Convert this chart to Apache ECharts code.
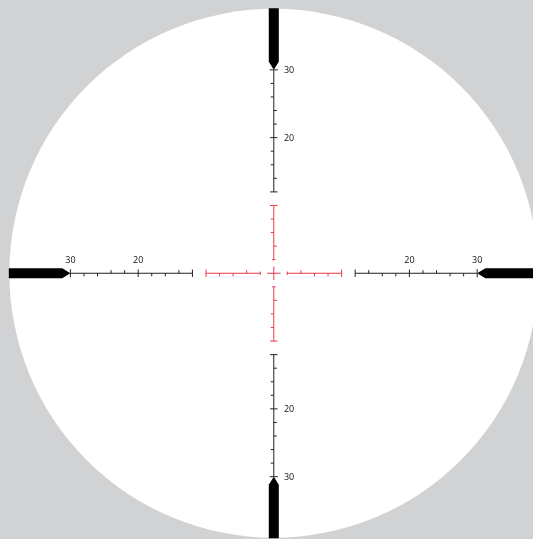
<!DOCTYPE html>
<html><head><meta charset="utf-8">
<style>html,body{margin:0;padding:0;background:#d1d2d4}#c{width:533px;height:539px}</style>
<script src="https://cdn.jsdelivr.net/npm/echarts@6/dist/echarts.min.js"></script></head>
<body><div id="c"></div>
<script>
// Reticle values, in reticle units from the centre
const scopeRadius = 39;
const blackTicks = [12,14,16,18,20,22,24,26,28,30];
const blackSides = [0,1,-1,-1,0,1,1,-1,-1,0];      // +1 up/right, -1 down/left, 0 both
const redTicks = [2,4,6,8,10];
const redSides = [0,1,-1,-1,0];
const redTickLen = [0.25,0.45,0.45,0.45,0.55];
const blackTickLen = [0.55,0.45,0.45,0.45,0.55,0.45,0.45,0.45,0.45,0.6];
const labelValues = [20,30];
const barProfile = [[30,0],[31.2,0.74],[39.08,0.74],[39.08,-0.74],[31.2,-0.74]]; // along, across
const arms = [[1,0],[-1,0],[0,1],[0,-1]];
const centreCross = 1;

function tickRows(values, sides, lens){
  const rows = [];
  arms.forEach(([dx,dy])=>{
    values.forEach((v,i)=>{
      const s = sides[i], L = lens[i];
      const a = s>=0 ? L : 0, b = s<=0 ? -L : 0;
      if(dx!==0) rows.push([dx*v,a,dx*v,b]);      // horizontal arm: tick vertical, + = up
      else rows.push([a,dy*v,b,dy*v]);            // vertical arm: tick horizontal, + = right
    });
    const last = values[values.length-1], first = values[0];
    rows.push([dx*first,dy*first,dx*last,dy*last]);
  });
  return rows;
}
const blackRows = tickRows(blackTicks, blackSides, blackTickLen);
const redRows = tickRows(redTicks, redSides, redTickLen);
redRows.push([-centreCross,0,centreCross,0],[0,-centreCross,0,centreCross]);

const segItem = (color,width)=>(p,api)=>{
  const a = api.coord([api.value(0),api.value(1)]), b = api.coord([api.value(2),api.value(3)]);
  return {type:'line',shape:{x1:a[0],y1:a[1],x2:b[0],y2:b[1]},style:{stroke:color,lineWidth:width}};
};
const labelRows = [];
labelValues.forEach(v=>{
  labelRows.push([v,1.85,String(v),'center'],[-v,1.85,String(v),'center'],
                 [1.5,v-0.1,String(v),'left'],[1.5,-v-0.1,String(v),'left']);
});

const chart = echarts.init(document.getElementById('c'),null,{renderer:'canvas'});
chart.setOption({
  animation:false,
  backgroundColor:'#d1d2d4',
  grid:{left:0,right:0,top:0,bottom:0},
  xAxis:{type:'value',min:-40.38,max:38.23,show:false},
  yAxis:{type:'value',min:-39.19,max:40.30,show:false},
  series:[
    {type:'custom',coordinateSystem:'cartesian2d',silent:true,clip:true,data:[[0,0,scopeRadius]],
     renderItem:(p,api)=>{
       const c = api.coord([api.value(0),api.value(1)]), r = api.size([api.value(2),0])[0];
       return {type:'circle',shape:{cx:c[0],cy:c[1],r:r},style:{fill:'#ffffff'}};
     }},
    {type:'custom',coordinateSystem:'cartesian2d',silent:true,clip:true,data:arms,
     renderItem:(p,api)=>{
       const dx=api.value(0), dy=api.value(1);
       const pts = barProfile.map(([al,ac])=>api.coord(dx!==0?[dx*al,ac]:[ac,dy*al]));
       return {type:'polygon',shape:{points:pts},style:{fill:'#000000'}};
     }},
    {type:'custom',coordinateSystem:'cartesian2d',silent:true,data:blackRows,renderItem:segItem('#222222',1)},
    {type:'custom',coordinateSystem:'cartesian2d',silent:true,data:redRows,renderItem:segItem('#e63a4c',1)},
    {type:'custom',coordinateSystem:'cartesian2d',silent:true,data:labelRows,
     encode:{x:0,y:1},
     renderItem:(p,api)=>{
       const c = api.coord([api.value(0),api.value(1)]);
       const row = labelRows[p.dataIndex];
       return {type:'text',x:c[0],y:c[1],style:{text:row[2],align:row[3],verticalAlign:'middle',
         fill:'#111111',font:'9px "Open Sans"'}};
     }}
  ]
});
</script></body></html>
